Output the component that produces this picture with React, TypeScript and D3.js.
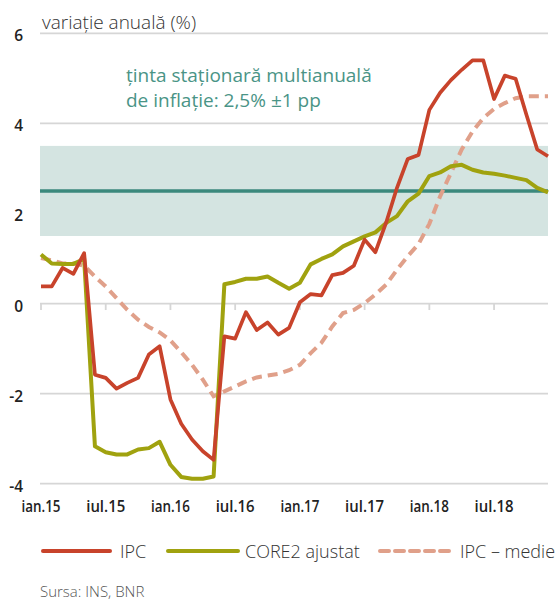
import React from "react";
import * as d3 from "d3";

// date lunare ian.2015 - dec.2018 (variatie anuala, %)
const ipc = [
  0.38, 0.38, 0.79, 0.66, 1.12, -1.58, -1.65, -1.89, -1.76, -1.65, -1.13, -0.95,
  -2.13, -2.67, -3.02, -3.28, -3.47, -0.73, -0.78, -0.19, -0.59, -0.42, -0.69, -0.54,
  0.03, 0.21, 0.18, 0.63, 0.68, 0.84, 1.42, 1.14, 1.8, 2.57, 3.21, 3.3,
  4.3, 4.68, 4.96, 5.19, 5.4, 5.4, 4.54, 5.06, 4.99, 4.19, 3.42, 3.27,
];
const core2 = [
  1.09, 0.89, 0.88, 0.88, 0.99, -3.17, -3.3, -3.35, -3.35, -3.24, -3.21, -3.07,
  -3.58, -3.85, -3.89, -3.89, -3.84, 0.43, 0.48, 0.55, 0.55, 0.6, 0.46, 0.33,
  0.46, 0.87, 0.99, 1.09, 1.27, 1.38, 1.49, 1.58, 1.79, 1.94, 2.27, 2.44,
  2.83, 2.91, 3.05, 3.08, 2.97, 2.91, 2.88, 2.84, 2.79, 2.74, 2.57, 2.47,
];
const ipcMedie = [
  1.01, 0.96, 0.89, 0.89, 0.84, 0.6, 0.38, 0.12, -0.14, -0.36, -0.52, -0.64,
  -0.82, -1.08, -1.36, -1.69, -2.06, -1.95, -1.84, -1.73, -1.64, -1.6, -1.56, -1.48,
  -1.36, -1.1, -0.87, -0.51, -0.21, -0.14, 0.01, 0.2, 0.42, 0.75, 1.05, 1.32,
  1.77, 2.38, 2.9, 3.42, 3.82, 4.12, 4.32, 4.45, 4.56, 4.6, 4.6, 4.6,
];
const xLabels = ["ian.15", "iul.15", "ian.16", "iul.16", "ian.17", "iul.17", "ian.18", "iul.18"];
const yTicks = [-4, -2, 0, 2, 4, 6];
const target = 2.5;
const band = [1.5, 3.5];

const W = 555;
const H = 603;

const x = d3.scaleLinear().domain([0, ipc.length - 1]).range([41, 548]);
const y = d3.scaleLinear().domain([-4, 6]).range([483.7, 33.3]);

const line = d3
  .line<number>()
  .x((_, i) => x(i))
  .y((d) => y(d));

const sans = "'Open Sans', 'Noto Sans', sans-serif";

const red = "#c8432b";
const olive = "#a0a20f";
const salmon = "#e0a08a";
const teal = "#3b897c";

export default function App() {
  const x0 = x(0);
  const x1 = x(ipc.length - 1);
  return (
    <svg width={W} height={H} style={{ position: "absolute", left: 0, top: 0, background: "#fff" }}>
      {/* grila */}
      {yTicks.map((t) => (
        <line key={t} x1={x0 - 1} x2={x1} y1={y(t)} y2={y(t)} stroke="#d6d6d6" strokeWidth={1.8} />
      ))}
      {/* tick-uri pe axa 0 */}
      {xLabels.map((_, k) => (
        <line key={k} x1={x(k * 6)} x2={x(k * 6)} y1={y(0)} y2={y(0) + 6.5} stroke="#d6d6d6" strokeWidth={1.8} />
      ))}
      {/* interval tinta */}
      <rect x={x0 - 1} width={x1 - x0 + 1} y={y(band[1])} height={y(band[0]) - y(band[1])} fill="#d4e4e1" />
      <line x1={x0 - 1} x2={x1} y1={y(target)} y2={y(target)} stroke={teal} strokeWidth={3.5} />

      {/* serii */}
      <path d={line(ipcMedie) ?? ""} fill="none" stroke={salmon} strokeWidth={4} strokeDasharray="10,6" />
      <path d={line(core2) ?? ""} fill="none" stroke={olive} strokeWidth={4} strokeLinejoin="round" />
      <path d={line(ipc) ?? ""} fill="none" stroke={red} strokeWidth={3.7} strokeLinejoin="round" />

      {/* axa y */}
      {yTicks.map((t) => (
        <text key={t} x={23} y={y(t) + 8} textAnchor="end" fontFamily={sans} fontWeight={600} fontSize={15.5} fill="#222">
          {t}
        </text>
      ))}
      {/* axa x */}
      {xLabels.map((l, k) => (
        <text
          key={l}
          x={x(k * 6)}
          y={511.7}
          textAnchor="middle"
          fontFamily={sans}
          fontWeight={600}
          fontSize={17}
          fill="#222"
          textLength={39}
          lengthAdjust="spacingAndGlyphs"
        >
          {l}
        </text>
      ))}

      <text x={42} y={29} fontFamily={sans} fontWeight={300} fontSize={19} fill="#333">
        variație anuală (%)
      </text>
      <text fontFamily={sans} fontSize={19} fill="#4a9486">
        <tspan x={126} y={81.5}>ținta staționară multianuală</tspan>
        <tspan x={126} y={107}>de inflație: 2,5% ±1 pp</tspan>
      </text>

      {/* legenda */}
      <line x1={43} x2={110} y1={551} y2={551} stroke={red} strokeWidth={4} strokeLinecap="round" />
      <text x={120} y={558} fontFamily={sans} fontWeight={300} fontSize={18} fill="#333">IPC</text>
      <line x1={168} x2={238} y1={551} y2={551} stroke={olive} strokeWidth={4} strokeLinecap="round" />
      <text x={245} y={558} fontFamily={sans} fontWeight={300} fontSize={18} fill="#333">CORE2 ajustat</text>
      <line x1={380} x2={450} y1={551} y2={551} stroke={salmon} strokeWidth={4} strokeDasharray="9,6" strokeLinecap="round" />
      <text x={460} y={558} fontFamily={sans} fontWeight={300} fontSize={18} fill="#333">IPC – medie</text>

      <text x={40} y={597} fontFamily={sans} fontWeight={300} fontSize={15} fill="#555">
        Sursa: INS, BNR
      </text>
    </svg>
  );
}
